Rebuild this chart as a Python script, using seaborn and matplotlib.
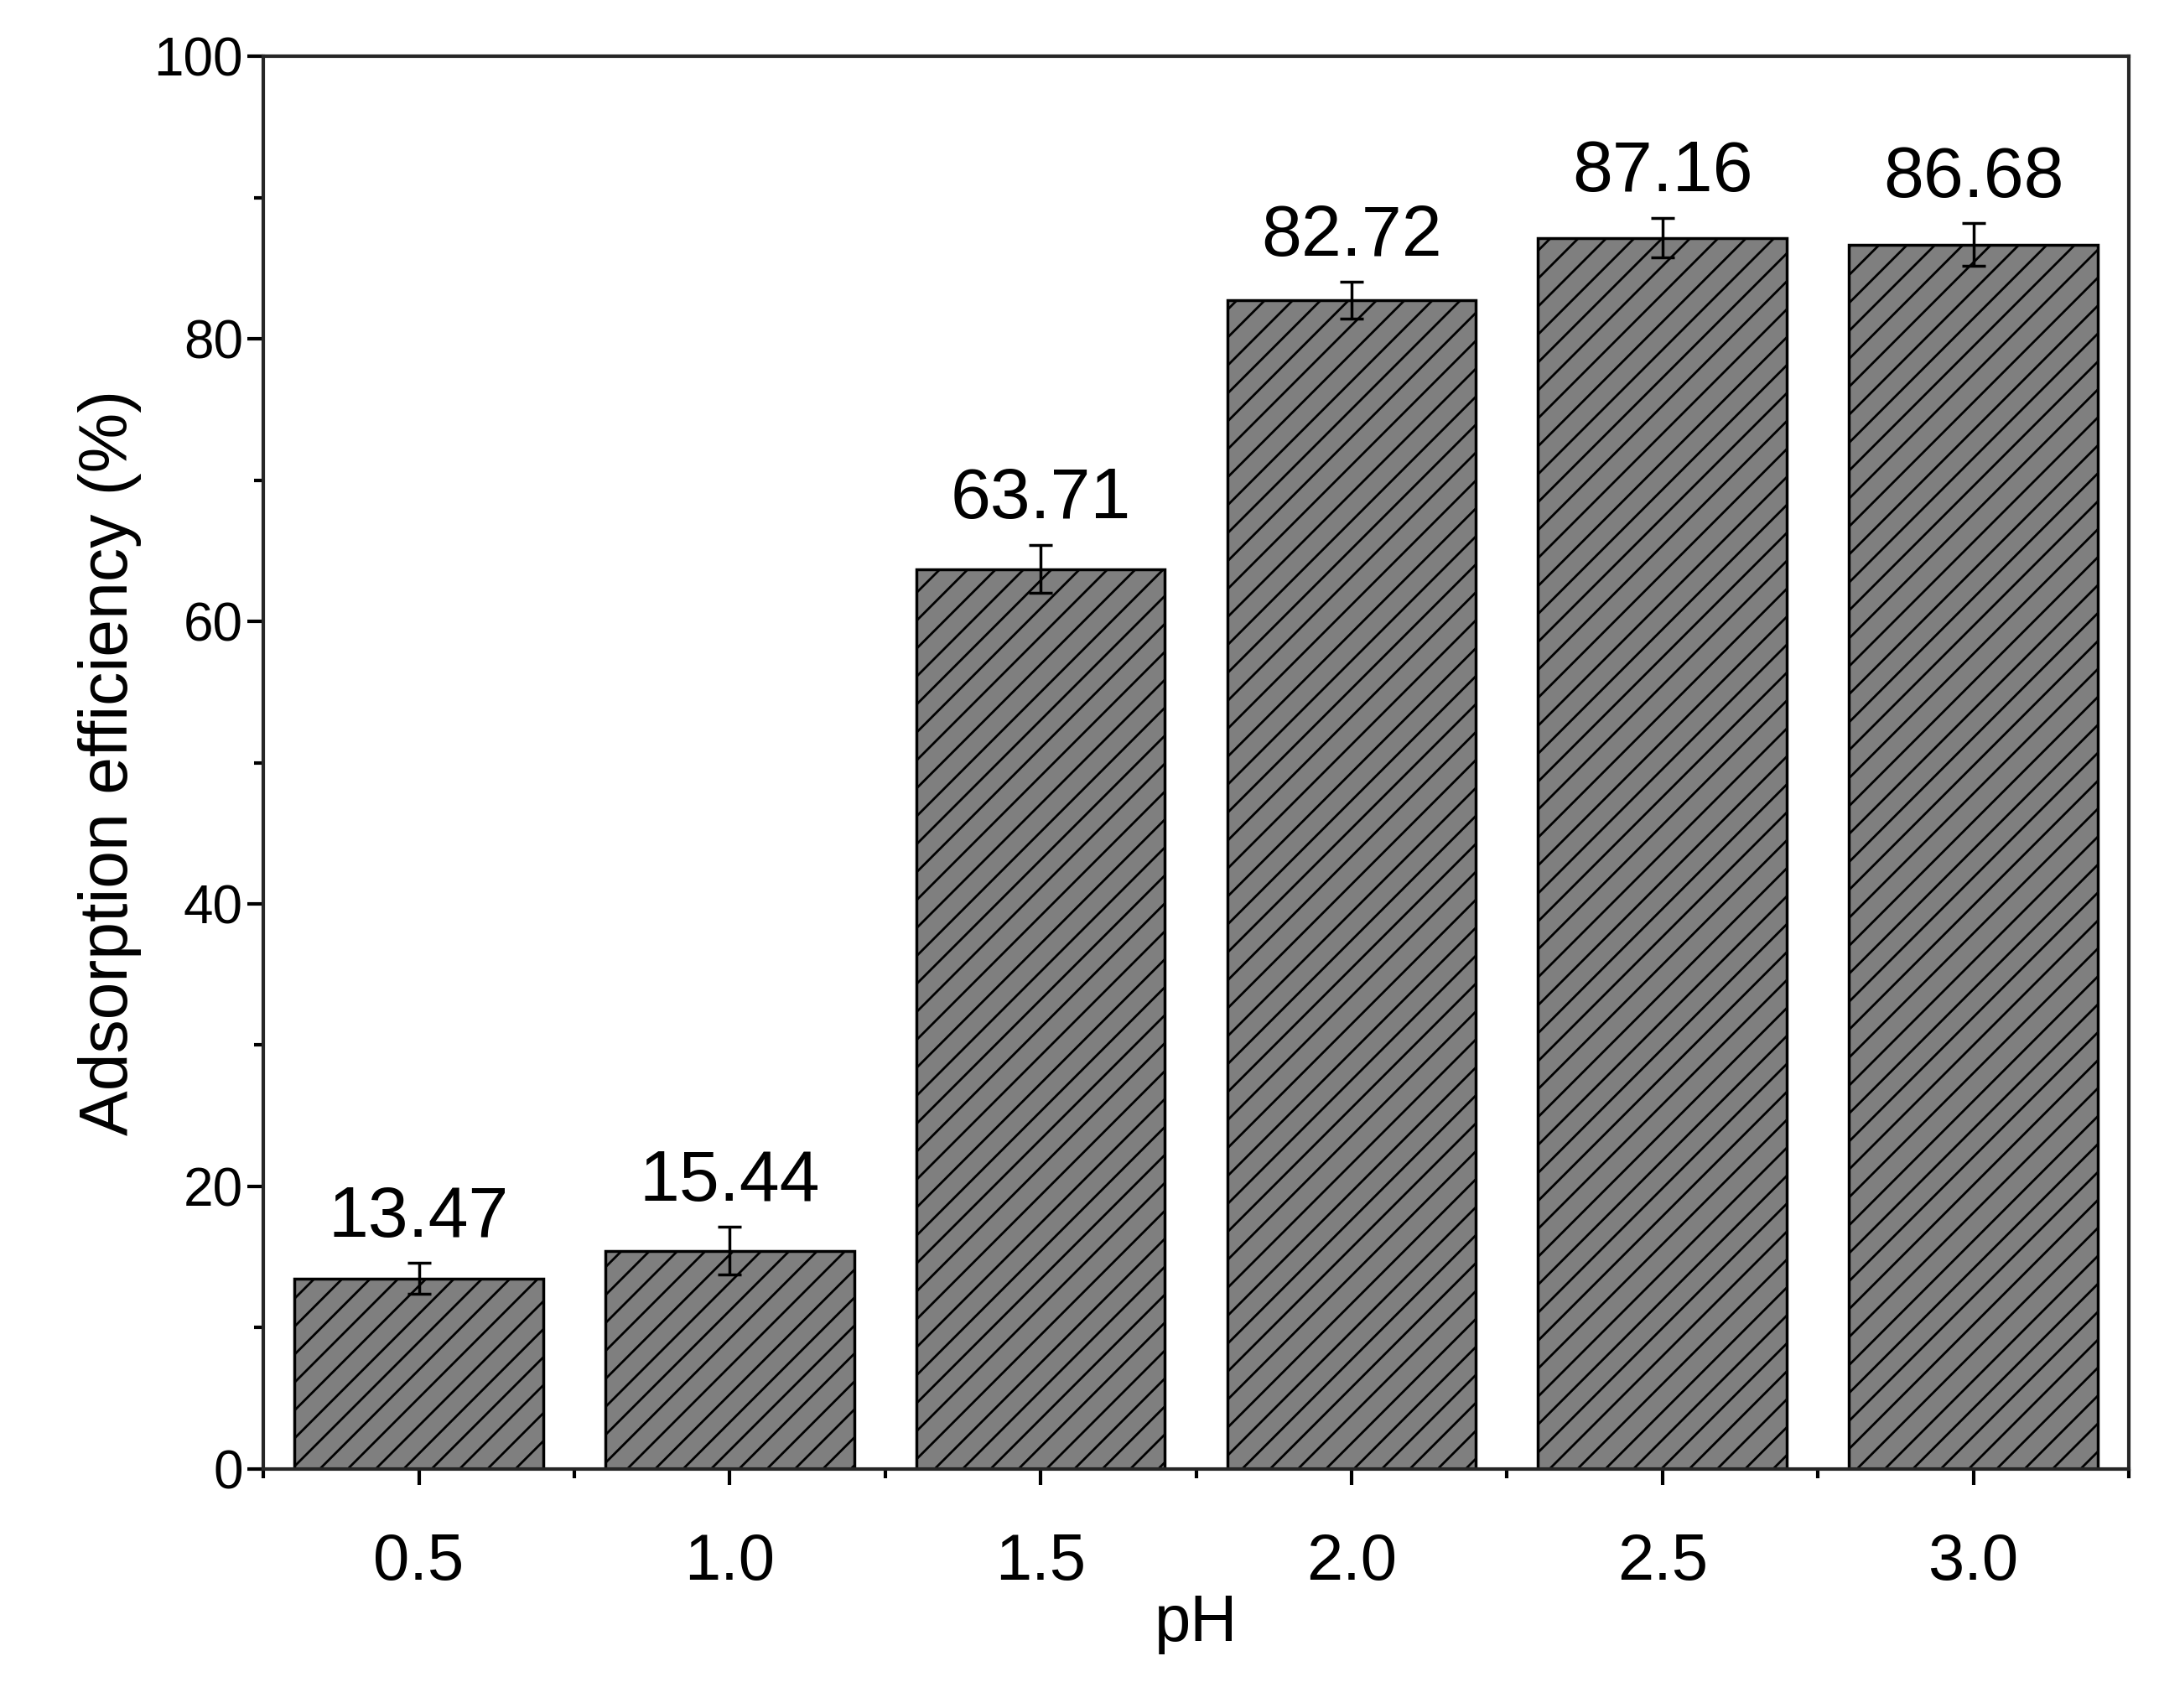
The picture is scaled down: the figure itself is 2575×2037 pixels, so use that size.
import matplotlib
matplotlib.use("Agg")
import matplotlib.pyplot as plt
import seaborn as sns
import pandas as pd
from matplotlib.ticker import MultipleLocator

ph_labels = ["0.5", "1.0", "1.5", "2.0", "2.5", "3.0"]
efficiency = [13.47, 15.44, 63.71, 82.72, 87.16, 86.68]
errors = [1.1, 1.7, 1.7, 1.3, 1.4, 1.5]

df = pd.DataFrame({"pH": ph_labels, "eff": efficiency})

sns.set_style("ticks")
plt.rcParams['font.family'] = ['Liberation Sans', 'DejaVu Sans']
plt.rcParams['hatch.linewidth'] = 2
plt.rcParams['text.color'] = 'black'
plt.rcParams['axes.labelcolor'] = 'black'
plt.rcParams['xtick.color'] = 'black'
plt.rcParams['ytick.color'] = 'black'

fig, ax = plt.subplots(figsize=(25.75, 20.37), dpi=100)
fig.subplots_adjust(left=0.122, right=0.986, top=0.967, bottom=0.14)

sns.barplot(data=df, x="pH", y="eff", color="#7f7f7f", width=0.8,
            edgecolor="black", linewidth=2.5, saturation=1, ax=ax)
for p in ax.patches:
    p.set_hatch("/")
ax.errorbar(range(len(efficiency)), efficiency, yerr=errors, fmt="none",
            ecolor="black", elinewidth=2.5, capsize=10, capthick=2.5)

for i, v in enumerate(efficiency):
    ax.text(i, v + errors[i] + 0.8, f"{v:.2f}", ha="center", va="bottom", fontsize=62)

ax.set_ylim(0, 100)
ax.set_xlim(-0.5, 5.5)
ax.yaxis.set_major_locator(MultipleLocator(20))
ax.yaxis.set_minor_locator(MultipleLocator(10))
ax.set_xticks([x + 0.5 for x in range(-1, 6)], minor=True)
ax.tick_params(axis="both", which="major", width=3, length=14, direction="out")
ax.tick_params(axis="y", which="major", labelsize=46)
ax.tick_params(axis="x", which="major", labelsize=56, pad=40)
ax.tick_params(axis="both", which="minor", width=3, length=8, direction="out")
ax.set_xlabel("pH", fontsize=56, labelpad=0)
ax.set_ylabel("Adsorption efficiency (%)", fontsize=58, labelpad=10)
for s in ax.spines.values():
    s.set_visible(True)
    s.set_linewidth(3)

fig.savefig("out.png", dpi=100)
